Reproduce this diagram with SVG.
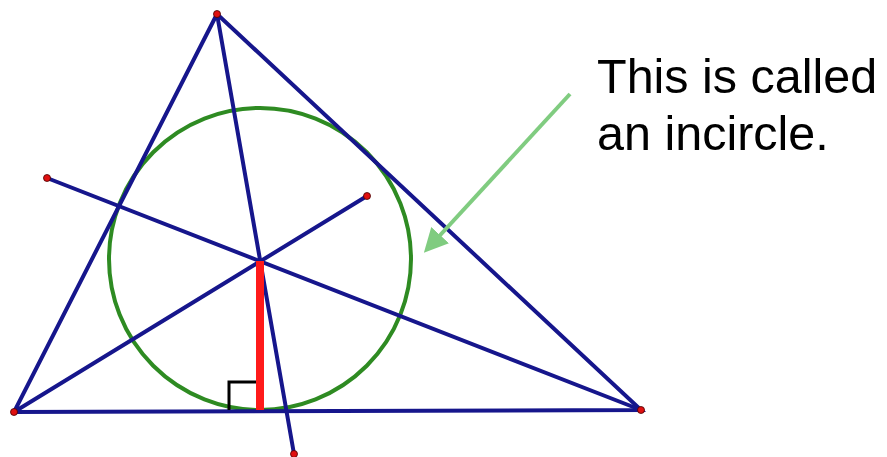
<svg xmlns="http://www.w3.org/2000/svg" width="887" height="457" viewBox="0 0 887 457">
<style>
.ln{stroke:#16168c;stroke-width:4;stroke-linecap:round;fill:none}
.pt{fill:#e01010;stroke:#400;stroke-width:0.8}
.lbl{font-family:"Liberation Sans",Arial,sans-serif;font-size:48.5px;fill:#000}
</style>
<defs>
<marker id="ah" markerWidth="6" markerHeight="6" refX="3" refY="3" orient="auto" markerUnits="strokeWidth">
<path d="M0,0 L6,3 L0,6 Z" fill="#80cc80"/>
</marker>
</defs>
<rect width="887" height="457" fill="#fff"/>
<g id="incircle"><circle cx="260" cy="259" r="151" fill="none" stroke="#2e8b22" stroke-width="4"/></g>
<g id="connectors">
<path class="ln" d="M217,14 L14,412 L641,410 Z"/>
<line class="ln" x1="217" y1="14" x2="294" y2="454"/>
<line class="ln" x1="47" y1="178" x2="641" y2="410"/>
<line class="ln" x1="14" y1="412" x2="367" y2="196"/>
<line x1="260" y1="261" x2="260" y2="410" stroke="#ff1a1a" stroke-width="8"/>
<path d="M229,410 V382 H256" fill="none" stroke="#000" stroke-width="3"/>
<line x1="570" y1="94" x2="432" y2="244" stroke="#80cc80" stroke-width="4" marker-end="url(#ah)"/>
</g>
<g id="points">
<circle class="pt" cx="217" cy="14" r="3.5"/>
<circle class="pt" cx="14" cy="412" r="3.5"/>
<circle class="pt" cx="641" cy="410" r="3.5"/>
<circle class="pt" cx="294" cy="454" r="3.5"/>
<circle class="pt" cx="47" cy="178" r="3.5"/>
<circle class="pt" cx="367" cy="196" r="3.5"/>
</g>
<g id="label">
<text class="lbl" x="597" y="93">This is called</text>
<text class="lbl" x="597" y="150">an incircle.</text>
</g>
</svg>
